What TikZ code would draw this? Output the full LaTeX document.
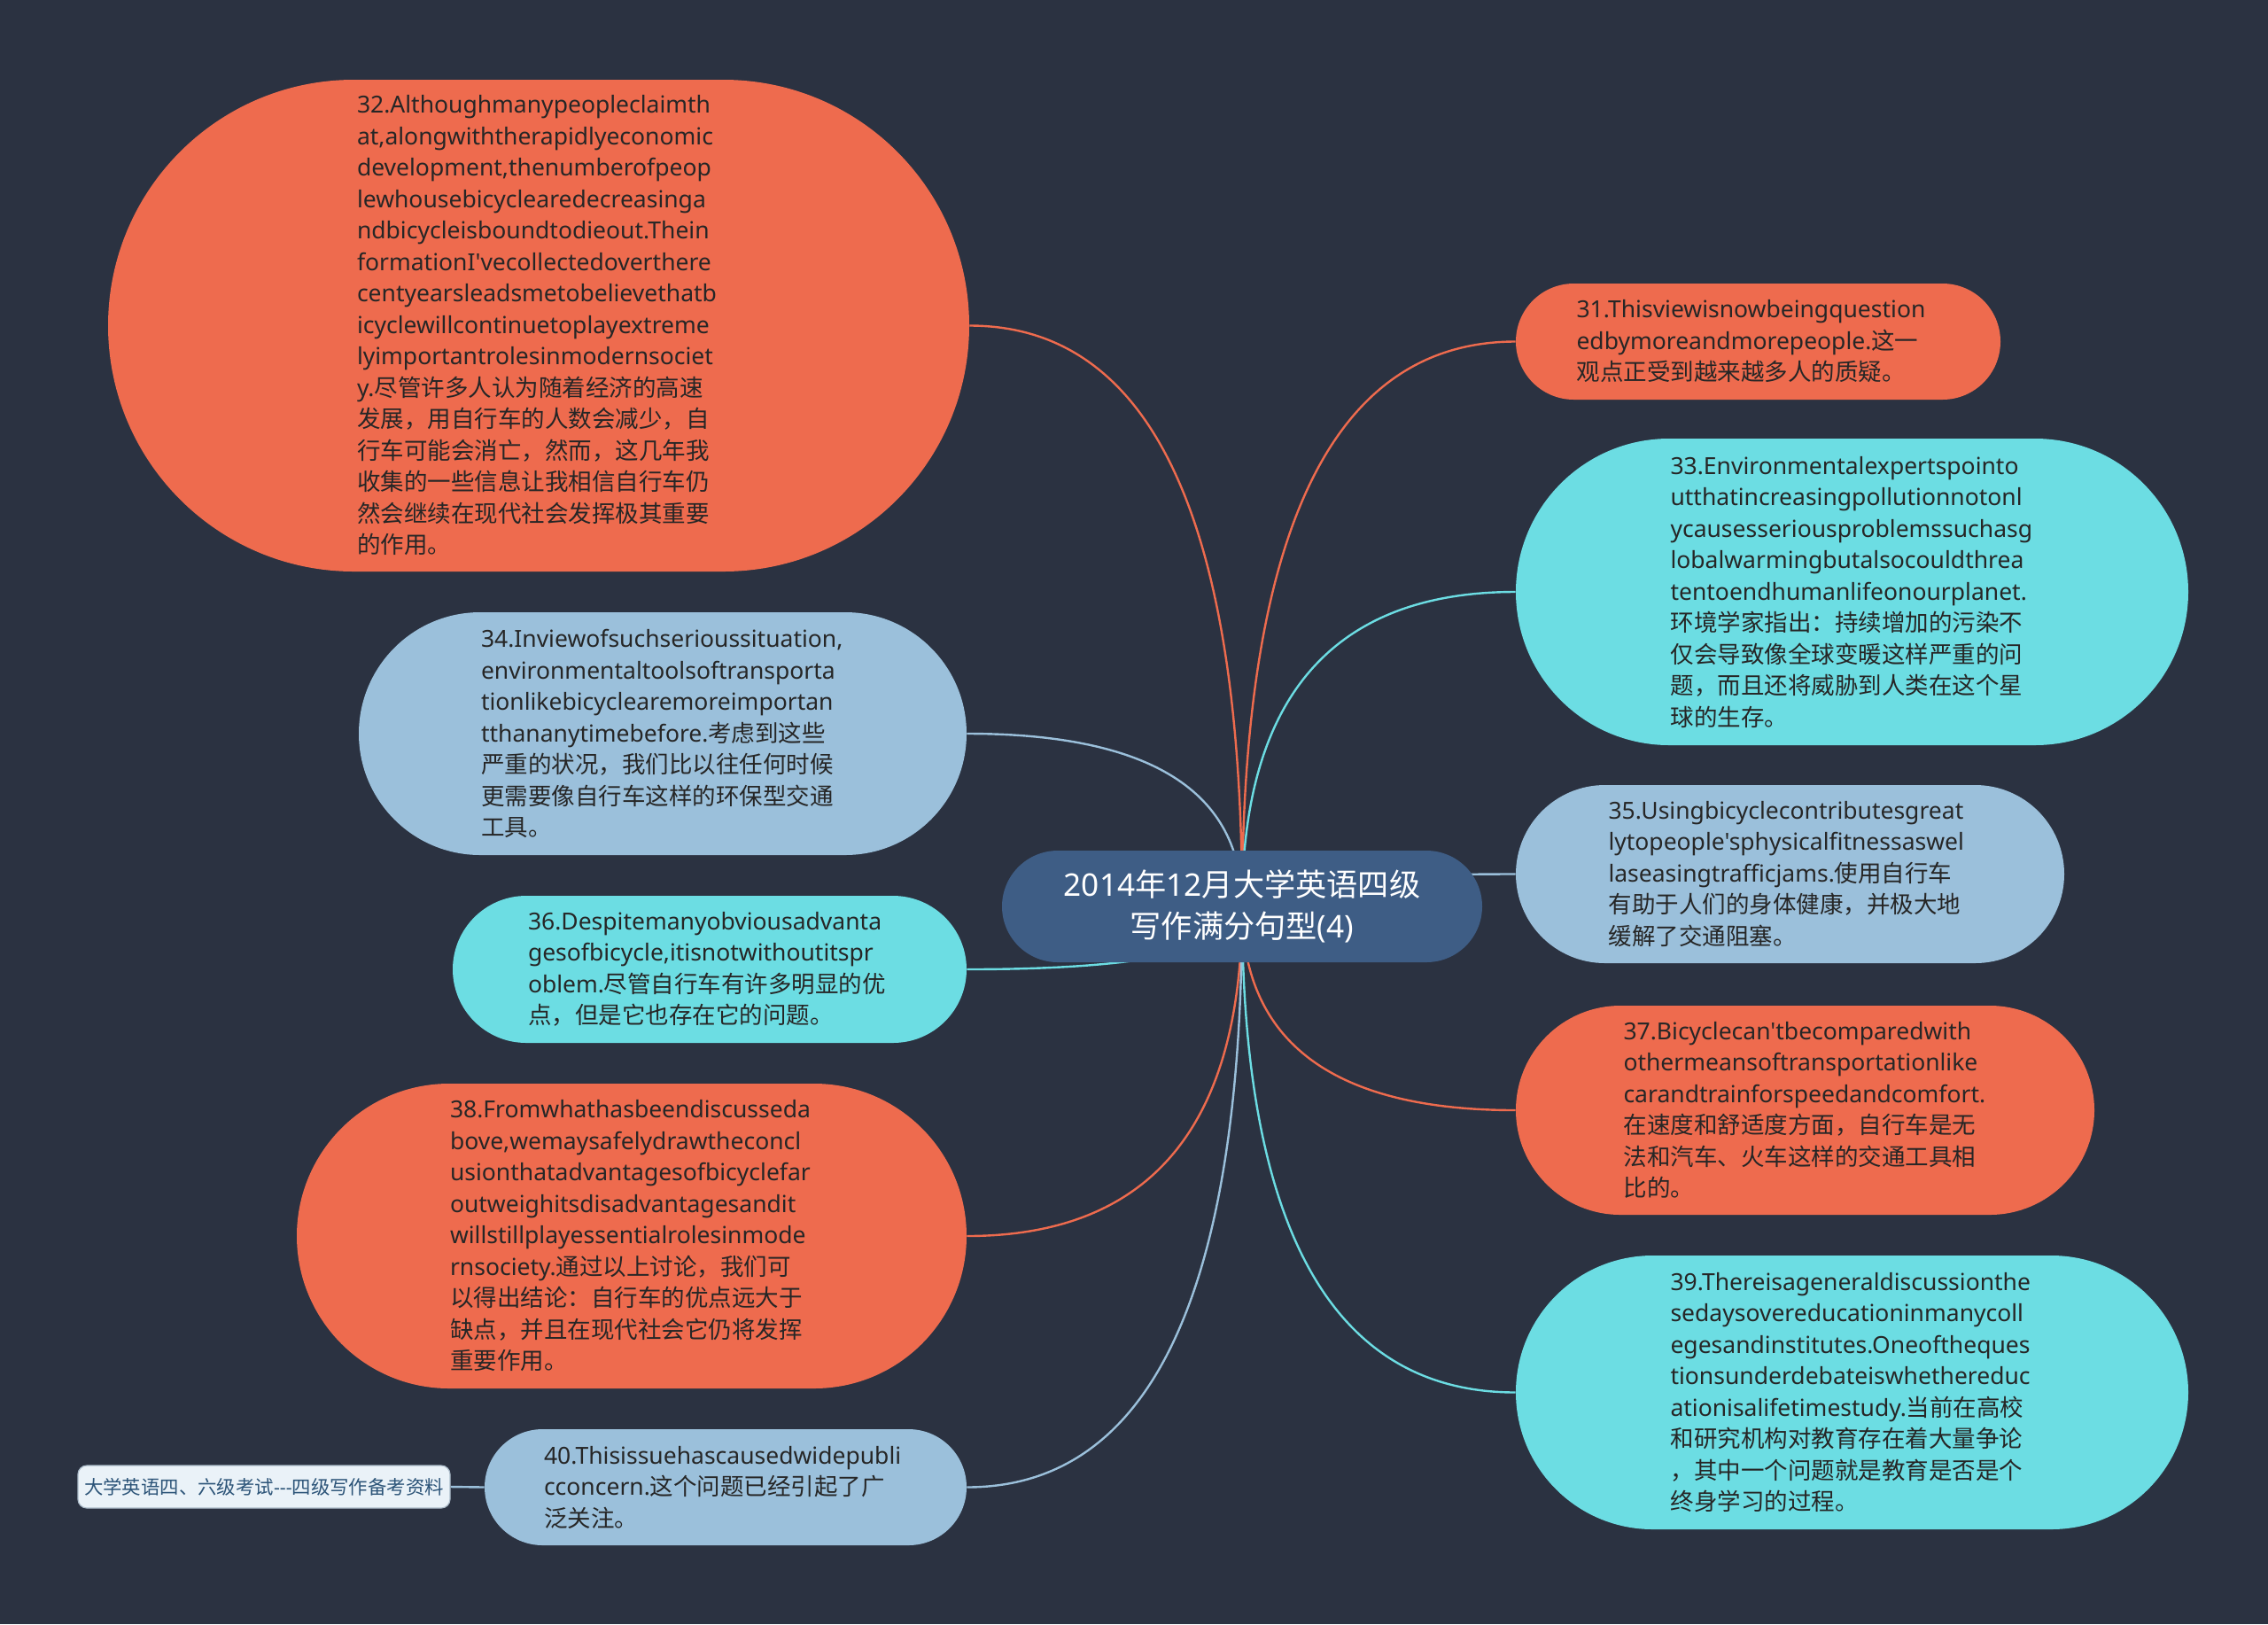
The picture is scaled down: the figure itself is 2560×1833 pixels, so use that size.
\documentclass[tikz,border=0pt]{standalone}
\usepackage{fontspec}
\usetikzlibrary{shapes.misc,calc}
\newfontfamily\latfont{Noto Sans}
\newfontfamily\cjkfont{Noto Sans CJK SC}
\XeTeXinterchartokenstate=1
\newXeTeXintercharclass\cjkcls
\makeatletter
\def\setcjkrange#1#2{\count@=#1\relax
  \loop\XeTeXcharclass\count@=\cjkcls\relax
  \ifnum\count@<#2\relax\advance\count@ by 1\relax\repeat}
\makeatother
\setcjkrange{"3000}{"303F}
\setcjkrange{"4E00}{"9FFF}
\setcjkrange{"FF00}{"FFEF}
\XeTeXinterchartoks 0 \cjkcls = {\cjkfont}
\XeTeXinterchartoks 4095 \cjkcls = {\cjkfont}
\XeTeXinterchartoks \cjkcls 0 = {\latfont}
\XeTeXinterchartoks \cjkcls 4095 = {\latfont}

\newcommand\boxfont{\latfont\fontsize{13.25pt}{17.75pt}\selectfont\hyphenpenalty 10000\relax\exhyphenpenalty 10000\relax}
\newcommand\rootfont{\latfont\fontsize{17.6pt}{23.5pt}\selectfont}
\newcommand\leaffont{\latfont\fontsize{10.7pt}{12pt}\selectfont}

\definecolor{bgc}{HTML}{2B3241}
\definecolor{org}{HTML}{EE6B4E}
\definecolor{lbl}{HTML}{9BC0DB}
\definecolor{cyn}{HTML}{6CDDE3}
\definecolor{ctrc}{HTML}{3E5D85}
\definecolor{txt}{HTML}{262626}
\definecolor{leaff}{HTML}{EAF2F8}
\definecolor{leaft}{HTML}{2C5478}

\pgfdeclarelayer{bg}
\pgfsetlayers{bg,main}

\tikzset{
  mm/.style={rounded rectangle, inner sep=0pt, text width=205pt, align=left,
    text=txt, font=\boxfont},
  orgn/.style={mm, fill=org},
  lbln/.style={mm, fill=lbl},
  cynn/.style={mm, fill=cyn},
  rootn/.style={rounded rectangle, inner sep=0pt, fill=ctrc, text=white, align=center,
    font=\rootfont},
  leafn/.style={rectangle, rounded corners=5pt, inner sep=0pt, fill=leaff, draw=leaft!40, line width=0.6pt,
    text=leaft, font=\leaffont},
  conn/.style={line width=1.2pt}
}

\begin{document}
\begin{tikzpicture}[x=0.5pt,y=-0.5pt]
\begin{pgfonlayer}{bg}
\fill[bgc] (0,0) rectangle (2560,1833);
\end{pgfonlayer}
\useasboundingbox (0,0) rectangle (2560,1833);

\node[rootn, minimum width=271pt, minimum height=63pt] (root) at (1402,1023)
  {2014年12月大学英语四级\\写作满分句型(4)};

\node[orgn, minimum width=486pt, minimum height=277.5pt] (n32) at (608,367.5)
  {32.Althoughmanypeopleclaimth\\at,alongwiththerapidlyeconomic\\development,thenumberofpeop\\lewhousebicyclearedecreasinga\\ndbicycleisboundtodieout.Thein\\formationI'vecollectedoverthere\\centyearsleadsmetobelievethatb\\icyclewillcontinuetoplayextreme\\lyimportantrolesinmodernsociet\\y.尽管许多人认为随着经济的高速\\发展，用自行车的人数会减少，自\\行车可能会消亡，然而，这几年我\\收集的一些信息让我相信自行车仍\\然会继续在现代社会发挥极其重要\\的作用。};

\node[orgn, minimum width=273.5pt, minimum height=65.5pt] (n31) at (1984.5,385.5)
  {31.Thisviewisnowbeingquestion\\edbymoreandmorepeople.这一\\观点正受到越来越多人的质疑。};

\node[cynn, minimum width=379.5pt, minimum height=173pt] (n33) at (2090.5,668)
  {33.Environmentalexpertspointo\\utthatincreasingpollutionnotonl\\ycausesseriousproblemssuchasg\\lobalwarmingbutalsocouldthrea\\tentoendhumanlifeonourplanet.\\环境学家指出：持续增加的污染不\\仅会导致像全球变暖这样严重的问\\题，而且还将威胁到人类在这个星\\球的生存。};

\node[lbln, minimum width=343pt, minimum height=137pt] (n34) at (748,828)
  {34.Inviewofsuchserioussituation,\\environmentaltoolsoftransporta\\tionlikebicyclearemoreimportan\\tthananytimebefore.考虑到这些\\严重的状况，我们比以往任何时候\\更需要像自行车这样的环保型交通\\工具。};

\node[lbln, minimum width=309.5pt, minimum height=100.5pt] (n35) at (2020.5,986.5)
  {35.Usingbicyclecontributesgreat\\lytopeople'sphysicalfitnessaswel\\laseasingtrafficjams.使用自行车\\有助于人们的身体健康，并极大地\\缓解了交通阻塞。};

\node[cynn, minimum width=290pt, minimum height=83pt] (n36) at (801,1094)
  {36.Despitemanyobviousadvanta\\gesofbicycle,itisnotwithoutitspr\\oblem.尽管自行车有许多明显的优\\点，但是它也存在它的问题。};

\node[orgn, minimum width=326.5pt, minimum height=118pt] (n37) at (2037.5,1253)
  {37.Bicyclecan'tbecomparedwith\\othermeansoftransportationlike\\carandtrainforspeedandcomfort.\\在速度和舒适度方面，自行车是无\\法和汽车、火车这样的交通工具相\\比的。};

\node[orgn, minimum width=378pt, minimum height=172pt] (n38) at (713,1395)
  {38.Fromwhathasbeendiscusseda\\bove,wemaysafelydrawtheconcl\\usionthatadvantagesofbicyclefar\\outweighitsdisadvantagesandit\\willstillplayessentialrolesinmode\\rnsociety.通过以上讨论，我们可\\以得出结论：自行车的优点远大于\\缺点，并且在现代社会它仍将发挥\\重要作用。};

\node[cynn, minimum width=379.5pt, minimum height=154.5pt] (n39) at (2090.5,1571.5)
  {39.Thereisageneraldiscussionthe\\sedaysovereducationinmanycoll\\egesandinstitutes.Oneoftheques\\tionsunderdebateiswhethereduc\\ationisalifetimestudy.当前在高校\\和研究机构对教育存在着大量争论\\，其中一个问题就是教育是否是个\\终身学习的过程。};

\node[lbln, minimum width=272pt, minimum height=65.5pt] (n40) at (819,1678.5)
  {40.Thisissuehascausedwidepubli\\cconcern.这个问题已经引起了广\\泛关注。};

\node[leafn, minimum width=210pt, minimum height=24pt] (leaf) at (298,1678)
  {大学英语四、六级考试---四级写作备考资料};

\begin{pgfonlayer}{bg}
\foreach \n/\a/\c in {n31/west/org, n33/west/cyn, n35/west/lbl, n37/west/org, n39/west/cyn,
                      n32/east/org, n34/east/lbl, n36/east/cyn, n38/east/org, n40/east/lbl} {
  \draw[conn, \c] (root.center) .. controls ($(root.center)!0.6667!(root.center |- \n.\a)$)
     and ($(\n.\a)!0.6667!(root.center |- \n.\a)$) .. (\n.\a);
}
\draw[conn, lbl] (leaf.east) -- (n40.west);
\end{pgfonlayer}
\end{tikzpicture}
\end{document}
